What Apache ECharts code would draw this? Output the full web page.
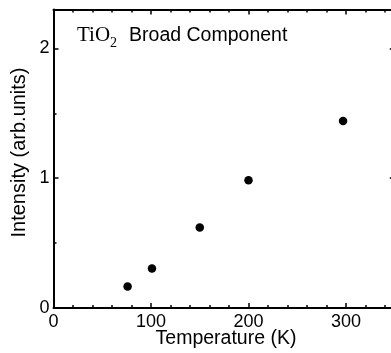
<!DOCTYPE html>
<html>
<head>
<meta charset="utf-8">
<script src="https://cdn.jsdelivr.net/npm/echarts@6/dist/echarts.min.js"></script>
<style>
html,body{margin:0;padding:0;background:#fff;}
#chart{width:391px;height:353px;}
</style>
</head>
<body>
<div id="chart"></div>
<script>
// Data
const temperatures = [76, 101, 150, 200, 297];
const intensities = [0.165, 0.305, 0.62, 0.985, 1.44];
const xRange = [0, 350];
const yRange = [0, 2.3];
const xTickInterval = 100;
const yTickInterval = 1;
const xTickLabels = ['0', '100', '200', '300'];
const yTickLabels = ['0', '1', '2'];
const xTitle = 'Temperature (K)';
const yTitle = 'Intensity (arb.units)';
const annotationMain = 'TiO';
const annotationSub = '2';
const annotationRest = 'Broad Component';

const points = temperatures.map((t, i) => [t, intensities[i]]);
const sans = '"Liberation Sans", Arial, sans-serif';
const serif = '"Liberation Serif", "Times New Roman", serif';

const chart = echarts.init(document.getElementById('chart'), null, {renderer: 'canvas'});

const lineStyle = {color: '#000', width: 2};
function axis(extra) {
  return Object.assign({
    type: 'value',
    axisLine: {show: true, onZero: false, lineStyle: lineStyle},
    axisTick: {show: true, inside: true, length: 5, lineStyle: {color: '#000', width: 1.5}},
    splitLine: {show: false}
  }, extra);
}
const xLabelFmt = v => (xTickLabels.indexOf(String(v)) >= 0 ? String(v) : '');
const yLabelFmt = v => (yTickLabels.indexOf(String(v)) >= 0 ? String(v) : '');

chart.setOption({
  animation: false,
  backgroundColor: '#fff',
  grid: {left: 53.5, top: 9.5, width: 341.25, height: 298.5, containLabel: false, outerBoundsMode: 'none'},
  xAxis: [
    axis({position: 'bottom', min: xRange[0], max: xRange[1], interval: xTickInterval,
      minorTick: {show: true, splitNumber: 5, length: 3, lineStyle: {color: '#000', width: 1.5}},
      axisLabel: {color: '#000', fontSize: 18, fontFamily: sans, margin: 5, formatter: xLabelFmt, hideOverlap: false}}),
    axis({position: 'top', min: xRange[0], max: xRange[1], interval: xTickInterval,
      minorTick: {show: true, splitNumber: 5, length: 3, lineStyle: {color: '#000', width: 1.5}},
      axisLabel: {show: false}})
  ],
  yAxis: [
    axis({position: 'left', min: yRange[0], max: yRange[1], interval: yTickInterval,
      minorTick: {show: true, splitNumber: 2, length: 3, lineStyle: {color: '#000', width: 1.5}},
      axisLabel: {color: '#000', fontSize: 18, fontFamily: sans, margin: 4, formatter: yLabelFmt}}),
    axis({position: 'right', min: yRange[0], max: yRange[1], interval: yTickInterval,
      minorTick: {show: true, splitNumber: 2, length: 3, lineStyle: {color: '#000', width: 1.5}},
      axisLabel: {show: false}})
  ],
  series: [{
    type: 'scatter',
    xAxisIndex: 0, yAxisIndex: 0,
    data: points,
    symbol: 'circle',
    symbolSize: 8.5,
    itemStyle: {color: '#000', opacity: 1}
  }],
  graphic: [
    {
      type: 'text', x: 226, y: 339,
      style: {text: xTitle, fontSize: 19.5, fontFamily: sans, fill: '#000', align: 'center', verticalAlign: 'middle'}
    },
    {
      type: 'text', rotation: Math.PI / 2, x: 19, y: 152.5,
      style: {text: yTitle, fontSize: 20, fontFamily: sans, fill: '#000', align: 'center', verticalAlign: 'middle'}
    },
    {
      type: 'text', x: 77, y: 46,
      style: {
        text: '{m|' + annotationMain + '}{s|' + annotationSub + '}{g| }{r|' + annotationRest + '}',
        verticalAlign: 'bottom',
        rich: {
          m: {fontSize: 21, fontFamily: serif, fill: '#000', verticalAlign: 'bottom'},
          s: {fontSize: 14, fontFamily: serif, fill: '#000', verticalAlign: 'bottom', padding: [0, 0, -4, 0]},
          g: {fontSize: 19, fontFamily: sans, width: 12},
          r: {fontSize: 19.5, fontFamily: sans, fill: '#000', verticalAlign: 'bottom'}
        }
      }
    }
  ]
});
</script>
</body>
</html>
